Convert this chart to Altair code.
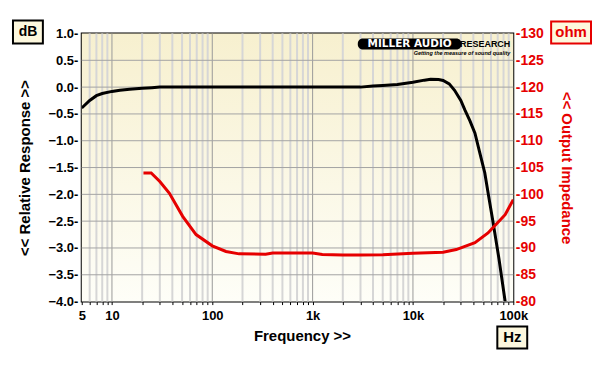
import altair as alt
import pandas as pd

# ---- data ----
resp_freq = [5, 6, 7, 8, 10, 12, 15, 20, 25, 30, 50, 100, 300, 1000, 2000, 3000, 4000, 5000,
             7000, 10000, 13000, 15000, 18000, 20000, 23000, 26000, 30000, 33000, 37000, 41500,
             46000, 52000, 57000, 63000, 72000, 83000]
resp_db = [-0.39, -0.25, -0.16, -0.12, -0.08, -0.06, -0.04, -0.02, -0.01, 0.0, 0.0, 0.0, 0.0, 0.0,
           0.0, 0.0, 0.02, 0.03, 0.05, 0.09, 0.13, 0.145, 0.14, 0.125, 0.06, -0.06, -0.25, -0.43,
           -0.63, -0.86, -1.2, -1.6, -2.05, -2.53, -3.2, -4.0]

imp_freq = [20.6, 24.6, 30, 37.4, 50.7, 68.9, 100, 137, 185, 340, 400, 1000, 1250, 2000, 3000,
            5000, 10000, 20000, 27000, 41500, 56000, 69000, 83000, 100000]
imp_ohm = [104.0, 104.0, 102.4, 100.2, 95.9, 92.5, 90.4, 89.35, 88.9, 88.85, 89.05, 89.05, 88.8,
           88.7, 88.7, 88.75, 89.0, 89.2, 89.7, 91.0, 92.8, 94.6, 96.2, 99.0]

x_ticks = [5, 6, 7, 8, 9, 10, 20, 30, 40, 50, 60, 70, 80, 90, 100, 200, 300, 400, 500, 600, 700,
           800, 900, 1000, 2000, 3000, 4000, 5000, 6000, 7000, 8000, 9000, 10000, 20000, 30000,
           40000, 50000, 60000, 70000, 80000, 90000, 100000]
x_label_vals = [5, 10, 100, 1000, 10000, 100000]
x_label_text = ["5", "10", "100", "1k", "10k", "100k"]
decade_lines = [10, 100, 1000, 10000]
minor_lines = [6, 7, 8, 9, 20, 30, 40, 50, 60, 70, 80, 90, 200, 300, 400, 500, 600, 700, 800, 900,
               2000, 3000, 4000, 5000, 6000, 7000, 8000, 9000, 20000, 30000, 40000, 50000, 60000,
               70000, 80000, 90000]
db_ticks = [-4.0, -3.5, -3.0, -2.5, -2.0, -1.5, -1.0, -0.5, 0.0, 0.5, 1.0]
db_grid = [-3.5, -3.0, -2.5, -2.0, -1.5, -1.0, -0.5, 0.0, 0.5]
ohm_ticks = [80, 85, 90, 95, 100, 105, 110, 115, 120, 125, 130]

FONT = "Liberation Sans"
RED = "#e60000"
W, H = 433, 269

label_expr = " : ".join(
    f"datum.value == {v} ? '{t}'" for v, t in zip(x_label_vals, x_label_text)
) + " : ''"

xs = alt.Scale(type="log", domain=[5, 100000], nice=False)
yl = alt.Scale(domain=[-4, 1], nice=False, zero=False)
yr = alt.Scale(domain=[80, 130], nice=False, zero=False)

resp_df = pd.DataFrame({"f": resp_freq, "db": resp_db})
imp_df = pd.DataFrame({"f": imp_freq, "ohm": imp_ohm})
one = pd.DataFrame({"a": [0]})

x_axis = alt.Axis(
    values=x_ticks, labelExpr=label_expr, title="Frequency >>", grid=False, domain=False,
    tickColor="black", tickSize=3, labelFlush=False, labelOverlap=False,
    labelFont=FONT, labelFontSize=13, labelFontWeight="bold", labelColor="black",
    labelPadding=5, titleFont=FONT, titleFontSize=15, titleFontWeight="bold",
    titleColor="black", titlePadding=6, titleX=221)

left_axis = alt.Axis(
    values=db_ticks, labelExpr="format(datum.value, '.1f') + '-'",
    title="<< Relative Response >>", grid=False, domain=False, ticks=False, labelPadding=4,
    labelFont=FONT, labelFontSize=13, labelFontWeight="bold", labelColor="black",
    titleFont=FONT, titleFontSize=15, titleFontWeight="bold", titleColor="black",
    titlePadding=15)

right_axis = alt.Axis(
    orient="right", values=ohm_ticks, labelExpr="'-' + datum.value",
    title="<< Output Impedance", grid=False, domain=False, ticks=False, labelPadding=2,
    labelFont=FONT, labelFontSize=14, labelFontWeight="bold", labelColor=RED,
    titleFont=FONT, titleFontSize=15, titleFontWeight="bold", titleColor=RED,
    titleAngle=90, titlePadding=15)

bg = alt.Chart(one).mark_rect(
    color=alt.LinearGradient(
        gradient="linear",
        stops=[alt.GradientStop(color="#f7f0cf", offset=0),
               alt.GradientStop(color="#fefef8", offset=1)],
        x1=0, x2=0, y1=0, y2=1,
    )
).encode(
    x=alt.XDatum(datum=5, type="quantitative", scale=xs, axis=x_axis),
    x2=alt.X2Datum(datum=100000),
    y=alt.YDatum(datum=-4, type="quantitative", scale=yl, axis=left_axis),
    y2=alt.Y2Datum(datum=1),
)

minor = alt.Chart(pd.DataFrame({"f": minor_lines})).mark_rule(
    color="#d6d6d6", strokeWidth=2
).encode(x=alt.X("f:Q", scale=xs, axis=x_axis))

major = alt.Chart(pd.DataFrame({"f": decade_lines})).mark_rule(
    color="#9a9a9a", strokeWidth=1
).encode(x=alt.X("f:Q", scale=xs, axis=x_axis))

hgrid = alt.Chart(pd.DataFrame({"d": db_grid})).mark_rule(
    color="#a4a4a4", strokeWidth=1
).encode(y=alt.Y("d:Q", scale=yl, axis=None))

black = alt.Chart(resp_df).mark_line(color="black", strokeWidth=3, clip=True).encode(
    x=alt.X("f:Q", scale=xs, axis=x_axis),
    y=alt.Y("db:Q", scale=yl, axis=None),
)

red = alt.Chart(imp_df).mark_line(color=RED, strokeWidth=3, clip=True).encode(
    x=alt.X("f:Q", scale=xs, axis=x_axis),
    y=alt.Y("ohm:Q", scale=yr, axis=right_axis),
)


def box(x1, x2, y1, y2, stroke):
    return alt.Chart(one).mark_rect(fill="#fdf8de", stroke=stroke, strokeWidth=2).encode(
        x=alt.value(x1), x2=alt.value(x2), y=alt.value(y1), y2=alt.value(y2))


def label(txt, x, y, color, size, align="center", weight="bold", style="normal", font=FONT):
    return alt.Chart(one).mark_text(
        text=txt, color=color, fontSize=size, fontWeight=weight, fontStyle=style, font=font,
        align=align, baseline="middle"
    ).encode(x=alt.value(x), y=alt.value(y))


pill = alt.Chart(one).mark_rect(color="black", cornerRadius=5).encode(
    x=alt.value(277), x2=alt.value(381), y=alt.value(5), y2=alt.value(16))

annotations = [
    box(-69, -39, -13, 10, "black"), label("dB", -54, -1.5, "black", 14),
    box(471, 511, -12, 10, RED), label("ohm", 491, -1, RED, 15),
    box(417, 447, 294, 316, "black"), label("Hz", 432, 305, "black", 15),
    pill, label("MILLER AUDIO", 329, 11, "white", 10.5, font="DejaVu Sans"),
    label("RESEARCH", 430, 11, "black", 9, align="right"),
    label("Getting the measure of sound quality", 430, 20, "black", 5.5, align="right",
          style="italic"),
]

chart = alt.layer(
    bg, minor, major, hgrid, black, red, *annotations,
).resolve_scale(y="independent").properties(
    width=W, height=H,
    autosize=alt.AutoSizeParams(type="none"),
    padding={"left": 74, "top": 25, "right": 79, "bottom": 48},
    background="white",
).configure_view(stroke="black", strokeWidth=2)

chart.save("out.html", embed_options={"renderer": "svg", "actions": False})
